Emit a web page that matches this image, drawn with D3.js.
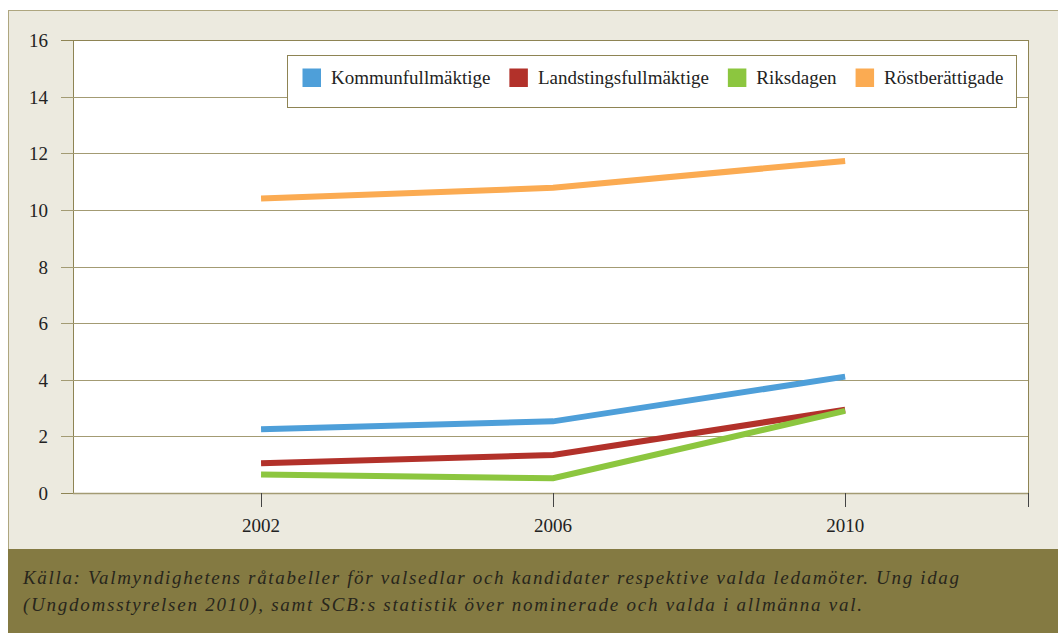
<!DOCTYPE html>
<html lang="sv">
<head>
    <meta charset="UTF-8">
    <title>Andel unga</title>
    <script src="https://cdn.jsdelivr.net/npm/d3@7"></script>
    <style>
        body {margin: 0; background: #fff;}
        text {font-family: "Liberation Serif", "Times New Roman", serif; fill: #222;}
    </style>
</head>
<body>
<script>
    const width = 1058;
    const height = 633;

    // data
    const years = ["2002", "2006", "2010"];
    const seriesNames = ["Kommunfullmäktige", "Landstingsfullmäktige", "Riksdagen", "Röstberättigade"];
    const kommun = [2.25, 2.53, 4.11];
    const landsting = [1.05, 1.34, 2.94];
    const riksdagen = [0.65, 0.52, 2.9];
    const rost = [10.4, 10.78, 11.73];
    const yTicks = [0, 2, 4, 6, 8, 10, 12, 14, 16];
    const captionLines = [
        "Källa: Valmyndighetens råtabeller för valsedlar och kandidater respektive valda ledamöter. Ung idag",
        "(Ungdomsstyrelsen 2010), samt SCB:s statistik över nominerade och valda i allmänna val."
    ];

    const colors = ["#4e9fd9", "#b2312a", "#8cc63f", "#fbab52"];
    const series = [kommun, landsting, riksdagen, rost];

    const margin = {left: 73, right: 1028, top: 40, bottom: 493};

    const svg = d3.select("body").append("svg")
            .attr("width", width).attr("height", height);

    // panel + caption band
    svg.append("rect").attr("x", 8.5).attr("y", 10.5)
            .attr("width", width).attr("height", 540)
            .style("fill", "#eceadf").style("stroke", "#aea67f");
    svg.append("rect").attr("x", 8).attr("y", 549)
            .attr("width", width - 8).attr("height", height - 549)
            .style("fill", "#847a42");

    // plot area
    svg.append("rect").attr("x", margin.left + 0.5).attr("y", margin.top + 0.5)
            .attr("width", margin.right - margin.left).attr("height", margin.bottom - margin.top)
            .style("fill", "#fff").style("stroke", "#8e8454");

    const x = d3.scalePoint().domain(years)
            .range([margin.left, margin.right]).padding(0.635).align(0.507);
    const y = d3.scaleLinear().domain([0, 16]).range([margin.bottom, margin.top]);

    // gridlines and y ticks
    const yAxis = svg.append("g").attr("class", "y-axis");
    yAxis.selectAll("line.grid")
            .data(yTicks.filter(d => d > 0 && d < 16))
            .enter().append("line")
            .attr("class", "grid")
            .attr("x1", margin.left - 12).attr("x2", margin.right)
            .attr("y1", d => Math.round(y(d)) + 0.5).attr("y2", d => Math.round(y(d)) + 0.5)
            .style("stroke", "#a39b73");
    yAxis.selectAll("line.tick")
            .data([0, 16])
            .enter().append("line")
            .attr("x1", margin.left - 12).attr("x2", margin.left)
            .attr("y1", d => Math.round(y(d)) + 0.5).attr("y2", d => Math.round(y(d)) + 0.5)
            .style("stroke", "#8e8454");
    yAxis.selectAll("text")
            .data(yTicks)
            .enter().append("text")
            .attr("x", 48).attr("y", d => y(d) + 7)
            .attr("text-anchor", "end")
            .style("font-size", "19px")
            .text(d => d);

    // x axis
    svg.append("line")
            .attr("x1", margin.left).attr("x2", margin.right)
            .attr("y1", margin.bottom + 0.5).attr("y2", margin.bottom + 0.5)
            .style("stroke", "#a39b73").style("stroke-width", 1.5);
    const xTickPos = years.map(d => x(d)).concat([margin.right]);
    svg.selectAll("line.xtick")
            .data(xTickPos)
            .enter().append("line")
            .attr("class", "xtick")
            .attr("x1", d => Math.round(d) + 0.5).attr("x2", d => Math.round(d) + 0.5)
            .attr("y1", margin.bottom).attr("y2", margin.bottom + 14)
            .style("stroke", "#444");
    svg.selectAll("text.xlabel")
            .data(years)
            .enter().append("text")
            .attr("class", "xlabel")
            .attr("x", d => x(d)).attr("y", 532)
            .attr("text-anchor", "middle")
            .style("font-size", "19px")
            .text(d => d);

    // lines
    const line = d3.line()
            .x((d, i) => x(years[i]))
            .y(d => y(d));
    svg.selectAll("path.series")
            .data(series)
            .enter().append("path")
            .attr("class", "series")
            .attr("d", line)
            .style("fill", "none")
            .style("stroke", (d, i) => colors[i])
            .style("stroke-width", 6);

    // legend
    const legend = svg.append("g").attr("class", "legend");
    legend.append("rect")
            .attr("x", 287.5).attr("y", 55.5)
            .attr("width", 729).attr("height", 52)
            .style("fill", "#fff").style("stroke", "#8e8454");
    let lx = 302.5;
    seriesNames.forEach((name, i) => {
        legend.append("rect")
                .attr("x", lx).attr("y", 68.5)
                .attr("width", 18.5).attr("height", 18.5)
                .style("fill", colors[i]);
        const t = legend.append("text")
                .attr("x", lx + 28.5).attr("y", 84)
                .style("font-size", "19px")
                .text(name);
        lx += 28.5 + t.node().getComputedTextLength() + 19;
    });

    // caption
    const capWidths = [936, 839];
    svg.selectAll("text.caption")
            .data(captionLines)
            .enter().append("text")
            .attr("class", "caption")
            .attr("x", 23).attr("y", (d, i) => 584 + i * 27)
            .attr("textLength", (d, i) => capWidths[i])
            .attr("lengthAdjust", "spacing")
            .style("font-size", "19px")
            .style("font-style", "italic")
            .style("fill", "#28261c")
            .text(d => d);
</script>

</body>
</html>
